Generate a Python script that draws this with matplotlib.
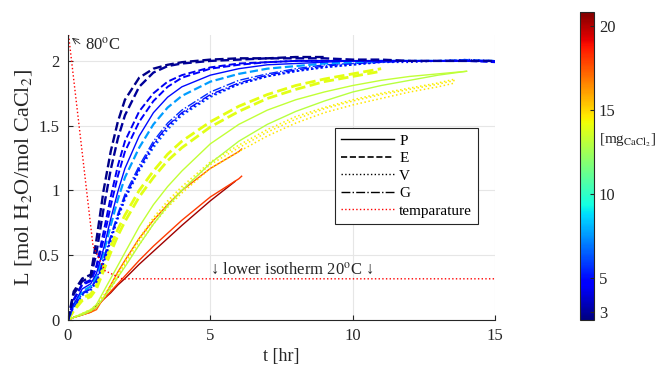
import matplotlib
matplotlib.use("Agg")
import matplotlib.pyplot as plt
from matplotlib.lines import Line2D
from matplotlib import cm, colors

plt.rcParams['font.family'] = ['Liberation Serif', 'DejaVu Serif']
plt.rcParams['mathtext.fontset'] = 'stix'

# time grid [hr] shared by the runs
t_grid = [0, 0.2, 0.5, 0.8, 1.0, 1.25, 1.5, 1.75, 2.0, 2.5, 3.0, 3.5, 4.0,
          5.0, 6.0, 7.0, 8.0, 9.0, 10.0, 11.0, 12.0, 13.0, 14.0, 15.0]

# loading L [mol H2O / mol CaCl2] per run
navy_e1 = [0, 0.22, 0.32, 0.35, 0.62, 1.00, 1.30, 1.53, 1.70, 1.87, 1.94, 1.97, 1.99,
           2.01, 2.02, 2.02, 2.03, 2.03]
navy_e2 = [0, 0.20, 0.30, 0.33, 0.52, 0.86, 1.16, 1.40, 1.58, 1.80, 1.91, 1.96, 1.98,
           2.00, 2.01, 2.02, 2.02, 2.02, 2.01, 2.01, 2.00, 2.00, 2.00, 2.00]
blue_e3 = [0, 0.16, 0.28, 0.31, 0.42, 0.68, 0.95, 1.19, 1.38, 1.61, 1.75, 1.84, 1.89,
           1.95, 1.98, 1.99, 2.00, 2.00, 2.00, 2.00, 2.00, 2.00, 2.00, 2.00]
blue_e4 = [0, 0.15, 0.27, 0.30, 0.40, 0.62, 0.88, 1.11, 1.30, 1.53, 1.69, 1.80, 1.87,
           1.94, 1.97, 1.99, 2.00, 2.00, 2.00, 2.00, 2.00, 2.00, 2.00, 1.99]
blue_p = [0, 0.12, 0.24, 0.28, 0.36, 0.55, 0.78, 0.99, 1.17, 1.42, 1.60, 1.72, 1.80,
          1.89, 1.94, 1.97, 1.98, 1.99, 2.00, 2.00, 2.00, 2.00, 2.00, 2.00]
lblue_e = [0, 0.12, 0.22, 0.26, 0.34, 0.52, 0.73, 0.93, 1.10, 1.33, 1.51, 1.64, 1.73,
           1.84, 1.90, 1.94, 1.96, 1.98, 1.99, 2.00, 2.00, 2.00, 2.00, 2.00]
blue_g1 = [0, 0.10, 0.20, 0.24, 0.31, 0.46, 0.63, 0.80, 0.95, 1.17, 1.36, 1.50, 1.60,
           1.74, 1.83, 1.89, 1.93, 1.96, 1.98, 1.99, 2.00, 2.00, 2.00, 2.00]
blue_g2 = [0, 0.11, 0.21, 0.25, 0.32, 0.48, 0.65, 0.82, 0.97, 1.19, 1.38, 1.52, 1.62,
           1.76, 1.85, 1.90, 1.94, 1.97, 1.98, 1.99, 2.00, 2.00, 2.01, 2.00]
blue_v1 = [0, 0.10, 0.19, 0.23, 0.29, 0.44, 0.61, 0.78, 0.93, 1.15, 1.33, 1.47, 1.58,
           1.72, 1.82, 1.88, 1.92, 1.95, 1.97, 1.99, 2.00, 2.00, 2.00, 2.00]
blue_v2 = [0, 0.11, 0.20, 0.24, 0.30, 0.45, 0.62, 0.79, 0.94, 1.16, 1.35, 1.49, 1.59,
           1.73, 1.82, 1.88, 1.92, 1.95, 1.97, 1.99, 1.99, 2.00, 2.01, 2.00]
yel_e1 = [0, 0.08, 0.17, 0.20, 0.27, 0.42, 0.57, 0.70, 0.81, 1.00, 1.15, 1.28, 1.38,
          1.53, 1.65, 1.74, 1.81, 1.86, 1.90, 1.94]
yel_e2 = [0, 0.07, 0.15, 0.18, 0.24, 0.38, 0.52, 0.65, 0.76, 0.95, 1.10, 1.23, 1.33,
          1.49, 1.61, 1.71, 1.78, 1.84, 1.88, 1.92]
yg_p1 = [0, 0.02, 0.05, 0.08, 0.12, 0.22, 0.32, 0.42, 0.52, 0.72, 0.89, 1.03, 1.15,
         1.36, 1.51, 1.62, 1.70, 1.76, 1.81, 1.85, 1.88, 1.90, 1.92]
yg_p2 = [0, 0.02, 0.04, 0.07, 0.10, 0.17, 0.25, 0.33, 0.41, 0.58, 0.74, 0.88, 1.00,
         1.21, 1.38, 1.51, 1.61, 1.69, 1.76, 1.81, 1.85, 1.89, 1.92]

# orange dotted runs end at 13.6 hr
t_dot = t_grid[:22] + [13.6]
org_v1 = [0, 0.02, 0.05, 0.08, 0.11, 0.18, 0.26, 0.35, 0.44, 0.61, 0.77, 0.90, 1.01,
          1.20, 1.33, 1.45, 1.55, 1.63, 1.69, 1.74, 1.78, 1.82, 1.85]
org_v2 = [0, 0.02, 0.04, 0.07, 0.10, 0.17, 0.24, 0.33, 0.42, 0.58, 0.74, 0.87, 0.98,
          1.17, 1.30, 1.42, 1.52, 1.60, 1.66, 1.71, 1.76, 1.80, 1.83]
org_v3 = [0, 0.02, 0.05, 0.08, 0.12, 0.19, 0.27, 0.36, 0.45, 0.63, 0.79, 0.92, 1.03,
          1.22, 1.35, 1.47, 1.57, 1.64, 1.70, 1.75, 1.79, 1.83, 1.86]

# red runs stop around 6 hr
t_red = t_grid[:15] + [6.1]
red_p1 = [0, 0.02, 0.04, 0.06, 0.08, 0.17, 0.27, 0.37, 0.46, 0.63, 0.77, 0.89, 1.00,
          1.17, 1.30, 1.32]
red_p2 = [0, 0.02, 0.04, 0.06, 0.10, 0.16, 0.22, 0.28, 0.34, 0.46, 0.57, 0.67, 0.77,
          0.95, 1.09, 1.11]
t_dred = t_grid[:14] + [5.87]
dred_p = [0, 0.02, 0.04, 0.07, 0.11, 0.16, 0.21, 0.27, 0.32, 0.43, 0.53, 0.63, 0.73,
          0.92, 1.07]

# temperature trace (scaled onto L axis)
temp_t = [0.02, 0.88, 1.3, 1.9, 15.0]
temp_L = [2.2, 0.57, 0.38, 0.318, 0.318]

# CaCl2 mass [mg] of each run
mass = {'navy_e1': 2.7, 'navy_e2': 3.0, 'blue_e3': 4.3, 'blue_e4': 4.7, 'blue_p': 5.0,
        'lblue_e': 7.6, 'blue_g1': 5.0, 'blue_g2': 5.6, 'blue_v1': 6.3, 'blue_v2': 4.8,
        'yel_e1': 14.0, 'yel_e2': 13.9, 'yg_p1': 13.2, 'yg_p2': 13.0,
        'org_v1': 14.6, 'org_v2': 14.7, 'org_v3': 14.5,
        'red_p1': 17.3, 'red_p2': 18.0, 'dred_p': 20.3}

cb_ticks = [3, 5, 10, 15, 20]
mg_min, mg_max = 2.5, 20.83

runs = [
    # name, t, L, linestyle, linewidth
    ('dred_p', t_dred, dred_p, '-', 1.0),
    ('red_p2', t_red, red_p2, '-', 1.0),
    ('red_p1', t_red, red_p1, '-', 1.0),
    ('org_v1', t_dot, org_v1, ':', 1.1),
    ('org_v2', t_dot, org_v2, ':', 1.1),
    ('org_v3', t_dot, org_v3, ':', 1.1),
    ('yg_p2', t_grid, yg_p2, '-', 1.0),
    ('yg_p1', t_grid, yg_p1, '-', 1.0),
    ('yel_e2', t_grid, yel_e2, '--', 2.0),
    ('yel_e1', t_grid, yel_e1, '--', 2.0),
    ('blue_v1', t_grid, blue_v1, ':', 1.3),
    ('blue_v2', t_grid, blue_v2, ':', 1.3),
    ('blue_g2', t_grid, blue_g2, '-.', 1.0),
    ('blue_g1', t_grid, blue_g1, '-.', 1.0),
    ('lblue_e', t_grid, lblue_e, '--', 1.6),
    ('blue_p', t_grid, blue_p, '-', 1.0),
    ('blue_e4', t_grid, blue_e4, '--', 1.4),
    ('blue_e3', t_grid, blue_e3, '--', 1.4),
    ('navy_e2', t_grid, navy_e2, '--', 1.7),
    ('navy_e1', t_grid, navy_e1, '--', 1.7),
]

cmap = plt.get_cmap('jet')
norm = colors.Normalize(vmin=mg_min, vmax=mg_max)

fig = plt.figure(figsize=(6.59, 3.68), dpi=100)
ax = fig.add_axes([68 / 659, 48 / 368, 427 / 659, 285 / 368])

for name, t, L, ls, lw in runs:
    ax.plot(t[:len(L)], L, ls=ls, lw=lw, color=cmap(norm(mass[name])))

ax.plot(temp_t, temp_L, ls=':', lw=1.0, color='red')

ax.set_xlim(0, 15)
ax.set_ylim(0, 2.2)
ax.set_xticks([0, 5, 10, 15])
ax.set_yticks([0, 0.5, 1, 1.5, 2])
ax.set_yticklabels(['0', '0.5', '1', '1.5', '2'])
ax.grid(True, color='#e6e6e6', lw=0.8)
ax.set_axisbelow(True)
for s in ['top', 'right']:
    ax.spines[s].set_visible(False)
for s in ['left', 'bottom']:
    ax.spines[s].set_color('#262626')
    ax.spines[s].set_linewidth(0.8)
ax.tick_params(direction='in', length=3.5, labelsize=12, colors='#262626', pad=6)
ax.set_xlabel('t [hr]', fontsize=13, color='#262626', labelpad=3)
ax.set_ylabel('L [mol H$_2$O/mol CaCl$_2$]', fontsize=16, color='#262626', labelpad=3)

# annotations
ax.annotate('', xy=(0.06, 2.19), xytext=(0.5, 2.12),
            arrowprops=dict(arrowstyle='->', lw=0.6, color='#262626'))
ax.text(0.6, 2.12, '80$^{\\rm o}$C', fontsize=12, va='center', ha='left', color='#262626')
ax.text(5.0, 0.39, '\u2193 lower isotherm 20$^{\\rm o}$C \u2193', fontsize=12,
        va='center', ha='left', color='#262626')

handles = [Line2D([], [], color='black', ls='-', lw=1.0),
           Line2D([], [], color='black', ls='--', lw=1.2),
           Line2D([], [], color='black', ls=':', lw=1.0),
           Line2D([], [], color='black', ls='-.', lw=1.0),
           Line2D([], [], color='red', ls=':', lw=1.0)]
labels = ['P', 'E', 'V', 'G', 'temparature']
leg = ax.legend(handles, labels, loc='upper left', bbox_to_anchor=(0.625, 0.674),
                borderaxespad=0, fontsize=11, handlelength=3.5, handletextpad=0.3,
                labelspacing=0.25, fancybox=False, framealpha=1, borderpad=0.4)
leg.get_frame().set_edgecolor('#262626')
leg.get_frame().set_linewidth(0.8)

# colorbar
cax = fig.add_axes([580 / 659, 48 / 368, 14 / 659, 308 / 368])
sm = cm.ScalarMappable(norm=norm, cmap=cmap)
cb = fig.colorbar(sm, cax=cax, ticks=cb_ticks)
cb.ax.tick_params(direction='in', length=3, labelsize=12, colors='#262626')
cb.outline.set_edgecolor('#262626')
cb.outline.set_linewidth(0.8)
fig.text(599 / 659, 1 - 140 / 368, '[mg$_{\\rm CaCl_2}$]', fontsize=11,
         va='center', ha='left', color='#262626')

fig.savefig('out.png', dpi=100)
